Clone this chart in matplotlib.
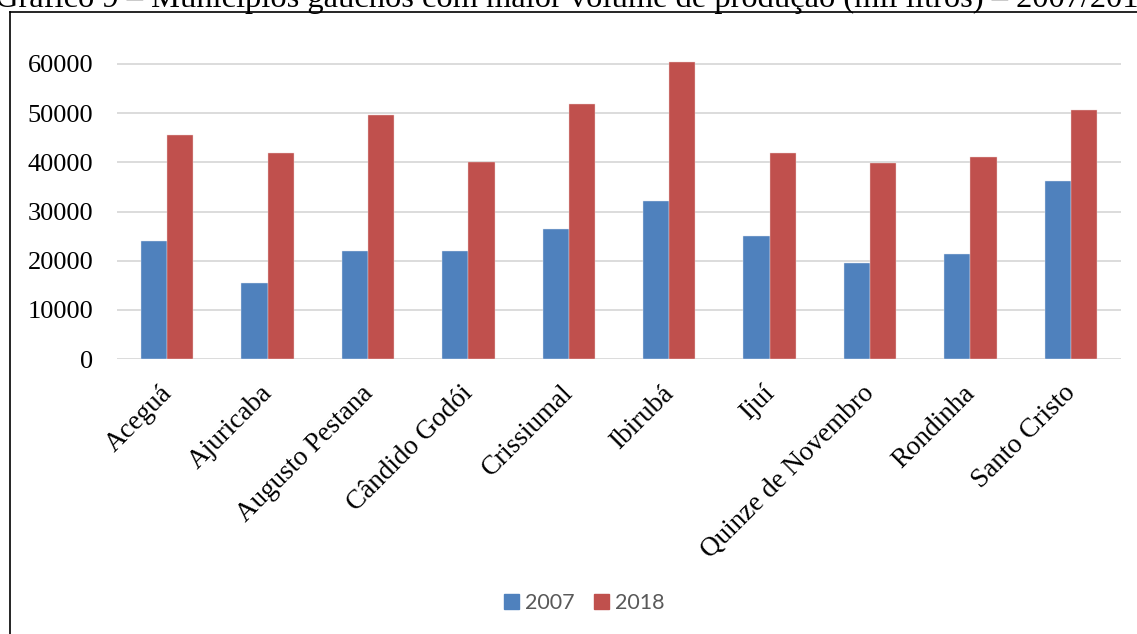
import numpy as np
import matplotlib
matplotlib.use("Agg")
import matplotlib.pyplot as plt
from matplotlib.patches import Patch
from matplotlib.lines import Line2D

# producao de leite (mil litros) por municipio
municipios = ["Aceguá", "Ajuricaba", "Augusto Pestana", "Cândido Godói", "Crissiumal",
              "Ibirubá", "Ijuí", "Quinze de Novembro", "Rondinha", "Santo Cristo"]
prod_2007 = [23900, 15500, 22000, 22000, 26400, 32200, 25000, 19500, 21400, 36300]
prod_2018 = [45600, 41900, 49700, 40100, 51900, 60400, 41900, 39800, 41000, 50700]
anos = ["2007", "2018"]
yticks = [0, 10000, 20000, 30000, 40000, 50000, 60000]

titulo = "Gráfico 9 – Municípios gaúchos com maior volume de produção (mil litros) – 2007/2018"

azul = "#4F81BD"
vermelho = "#C0504D"
serif = ["Liberation Serif", "DejaVu Serif"]

W, H = 1137, 634
fig = plt.figure(figsize=(W / 100, H / 100), dpi=100)

ax = fig.add_axes([117 / W, 1 - 359 / H, (1121 - 117) / W, (359 - 34.5) / H])

x = np.arange(len(municipios))
w = 0.26
ax.bar(x - w / 2, prod_2007, width=w, color=azul, edgecolor="#dfe6f0", linewidth=0.3, zorder=3)
ax.bar(x + w / 2, prod_2018, width=w, color=vermelho, edgecolor="#efd3d2", linewidth=0.3, zorder=3)

ax.set_xlim(-0.5, len(municipios) - 0.5)
ax.set_ylim(0, 66000)
ax.set_yticks(yticks)
ax.set_yticklabels([str(v) for v in yticks], fontsize=19, family=serif)
ax.grid(axis="y", color="#d9d9d9", linewidth=1.3, zorder=0)
for s in ax.spines.values():
    s.set_visible(False)
ax.tick_params(axis="both", length=0)
ax.tick_params(axis="y", pad=17)

ax.set_xticks(x + 0.01)
ax.set_xticklabels(municipios, rotation=45, ha="right", va="center",
                   rotation_mode="anchor", fontsize=19.5, family=serif)
ax.tick_params(axis="x", pad=22)

# legenda
handles = [Patch(color=azul), Patch(color=vermelho)]
leg = fig.legend(handles, anos, loc="center", bbox_to_anchor=(584.5 / W, 1 - 603 / H),
                 ncol=2, frameon=False, handlelength=0.67, handleheight=0.67,
                 handletextpad=0.3, columnspacing=0.9,
                 prop={"family": ["Lato", "DejaVu Sans"], "size": 15.5})
for t in leg.get_texts():
    t.set_color("#595959")

# titulo cortado no topo e moldura
fig.text(-5 / W, 1 - 7.5 / H, titulo, ha="left", va="baseline", fontsize=23.4, family=serif)
fig.add_artist(Line2D([10 / W, 1], [1 - 11.5 / H, 1 - 11.5 / H], color="black", linewidth=1.2))
fig.add_artist(Line2D([10 / W, 10 / W], [0, 1 - 11.5 / H], color="black", linewidth=1.2))

fig.savefig("out.png", dpi=100)
